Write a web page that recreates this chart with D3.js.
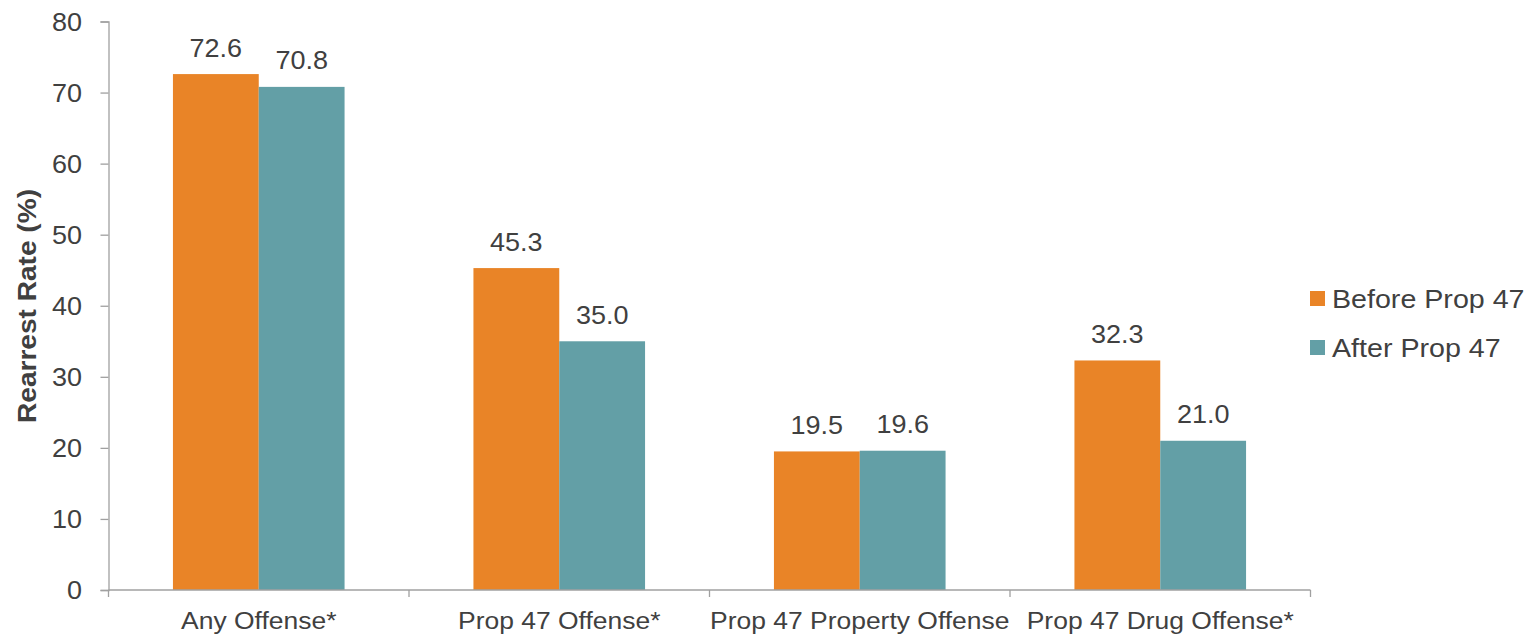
<!DOCTYPE html>
<html><head><meta charset="utf-8">
<script src="https://cdn.jsdelivr.net/npm/d3@7"></script>
<style>html,body{margin:0;padding:0;background:#fff;}svg{display:block;}</style>
</head><body>
<svg id="chart" width="1537" height="634"></svg>
<script>
const categories = ["Any Offense*", "Prop 47 Offense*", "Prop 47 Property Offense", "Prop 47 Drug Offense*"];
const seriesNames = ["Before Prop 47", "After Prop 47"];
const beforeValues = [72.6, 45.3, 19.5, 32.3];
const afterValues = [70.8, 35.0, 19.6, 21.0];
const yTicks = [0, 10, 20, 30, 40, 50, 60, 70, 80];
const colors = ["#E98427", "#639FA6"];

const svg = d3.select("#chart");
const textColor = "#404040";
const axisColor = "#A0A0A0";
const sx = 1.08;
const font = "'Liberation Sans', Arial, sans-serif";

const x0 = 108.5, x1 = 1310.5, yTop = 21.5, yBot = 590;
const x = d3.scaleBand().domain(categories).range([x0, x1]).paddingInner(0).paddingOuter(0);
const y = d3.scaleLinear().domain([0, 80]).range([yBot, yTop]);
const inner = d3.scaleBand().domain(seriesNames).range([0, x.bandwidth()]).paddingOuter(0.751).paddingInner(0);

function txt(g, str, tx, ty, size, anchor, extra) {
  return g.append("text")
    .attr("transform", `translate(${tx},${ty})` + (extra || "") + ` scale(${sx},1)`)
    .attr("text-anchor", anchor)
    .attr("font-family", font)
    .attr("font-size", size)
    .attr("fill", textColor)
    .text(str);
}

// bars
const data = [];
categories.forEach((c, i) => {
  data.push({cat: c, s: seriesNames[0], v: beforeValues[i], col: colors[0]});
  data.push({cat: c, s: seriesNames[1], v: afterValues[i], col: colors[1]});
});
const barG = svg.append("g");
barG.selectAll("rect").data(data).join("rect")
  .attr("x", d => x(d.cat) + inner(d.s))
  .attr("y", d => y(d.v))
  .attr("width", inner.bandwidth())
  .attr("height", d => yBot - y(d.v))
  .attr("fill", d => d.col);

// value labels
const labG = svg.append("g");
data.forEach(d => {
  txt(labG, d.v.toFixed(1), x(d.cat) + inner(d.s) + inner.bandwidth() / 2, y(d.v) - 17.5, 25, "middle");
});

// y axis
const yAxis = d3.axisLeft(y).tickValues(yTicks).tickSize(8).tickFormat(d3.format("d"));
const yg = svg.append("g").attr("transform", `translate(${x0},0)`).call(yAxis);
yg.select(".domain").attr("stroke", axisColor).attr("stroke-width", 1.3);
yg.selectAll(".tick line").attr("stroke", axisColor).attr("stroke-width", 1.3);
yg.selectAll(".tick text").remove();
yg.selectAll(".tick").each(function(d) {
  txt(d3.select(this), String(d), -26.5, 8.9, 25, "end");
});

// x axis
const xg = svg.append("g").attr("transform", `translate(0,${yBot})`);
xg.append("line").attr("x1", x0).attr("x2", x1).attr("y1", 0).attr("y2", 0)
  .attr("stroke", axisColor).attr("stroke-width", 1.3);
const bounds = categories.map(c => x(c)).concat([x1]);
xg.selectAll("line.tk").data(bounds).join("line").attr("class", "tk")
  .attr("x1", d => d).attr("x2", d => d).attr("y1", 0).attr("y2", 7)
  .attr("stroke", axisColor).attr("stroke-width", 1.3);
categories.forEach(c => {
  txt(xg, c, x(c) + x.bandwidth() / 2, 39.3, 24.5, "middle");
});

// y title
svg.append("text")
  .attr("transform", `translate(35.5,306) rotate(-90) scale(${sx},1)`)
  .attr("text-anchor", "middle")
  .attr("font-family", font)
  .attr("font-size", 26)
  .attr("font-weight", "bold")
  .attr("fill", textColor)
  .text("Rearrest Rate (%)");

// legend
const lg = svg.append("g");
seriesNames.forEach((s, i) => {
  const ly = 298.5 + i * 49;
  lg.append("rect").attr("x", 1310).attr("y", ly - 7.5).attr("width", 15).attr("height", 15).attr("fill", colors[i]);
  txt(lg, s, 1332, ly + 9, 26.5, "start");
});
</script>
</body></html>
